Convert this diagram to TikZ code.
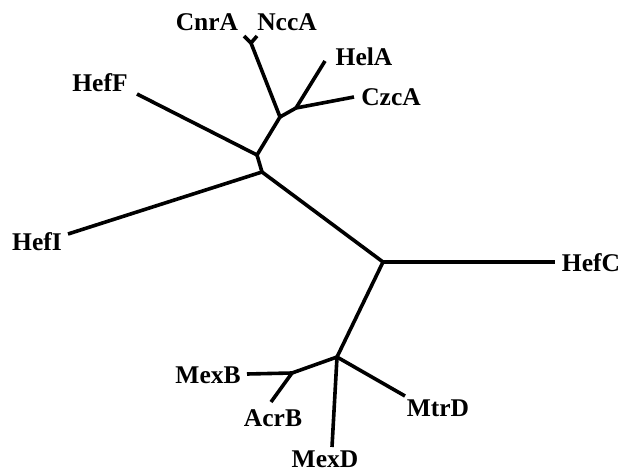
\documentclass[tikz,border=0pt]{standalone}
\usepackage{fontspec}
\setmainfont{Liberation Serif}
\begin{document}
\begin{tikzpicture}[x=1pt,y=-1pt,
  branch/.style={line width=3.6pt,line cap=butt},
  taxon/.style={font=\fontsize{25.5}{28}\selectfont\bfseries,inner sep=0pt}]
\useasboundingbox (0,0) rectangle (623,473);
% internal nodes
\coordinate (nA) at (280,117);
\coordinate (nB) at (296,108);
\coordinate (nC) at (257,155);
\coordinate (nD) at (262,172);
\coordinate (nE) at (383,262);
\coordinate (nF) at (337,357);
\coordinate (nG) at (292,373);
\coordinate (nK) at (251,43);
% leaf tips
\coordinate (tCnrA) at (244,36);
\coordinate (tNccA) at (257,36);
\coordinate (tHelA) at (325,61);
\coordinate (tCzcA) at (354,97);
\coordinate (tHefF) at (137,94);
\coordinate (tHefI) at (68,234);
\coordinate (tHefC) at (555,262);
\coordinate (tMtrD) at (405,396);
\coordinate (tMexD) at (332,447);
\coordinate (tMexB) at (247,374);
\coordinate (tAcrB) at (271,402);
% branches
\draw[branch] (nK) -- (tCnrA);
\draw[branch] (nK) -- (tNccA);
\draw[branch] (nK) -- (nA);
\draw[branch] (nA) -- (nB);
\draw[branch] (nB) -- (tHelA);
\draw[branch] (nB) -- (tCzcA);
\draw[branch] (nA) -- (nC);
\draw[branch] (nC) -- (tHefF);
\draw[branch] (nC) -- (nD);
\draw[branch] (nD) -- (tHefI);
\draw[branch] (nD) -- (nE);
\draw[branch] (nE) -- (tHefC);
\draw[branch] (nE) -- (nF);
\draw[branch] (nF) -- (tMtrD);
\draw[branch] (nF) -- (tMexD);
\draw[branch] (nF) -- (nG);
\draw[branch] (nG) -- (tMexB);
\draw[branch] (nG) -- (tAcrB);
% labels
\node[taxon] (CnrA) at (207,22) {CnrA};
\node[taxon] (NccA) at (287,22) {NccA};
\node[taxon] (HelA) at (364,57) {HelA};
\node[taxon] (CzcA) at (391,97) {CzcA};
\node[taxon] (HefF) at (100,83) {HefF};
\node[taxon] (HefI) at (37,242) {HefI};
\node[taxon] (HefC) at (591,263) {HefC};
\node[taxon] (MtrD) at (438,408) {MtrD};
\node[taxon] (MexD) at (325,459) {MexD};
\node[taxon] (MexB) at (208,375) {MexB};
\node[taxon] (AcrB) at (273,418) {AcrB};
\end{tikzpicture}
\end{document}
